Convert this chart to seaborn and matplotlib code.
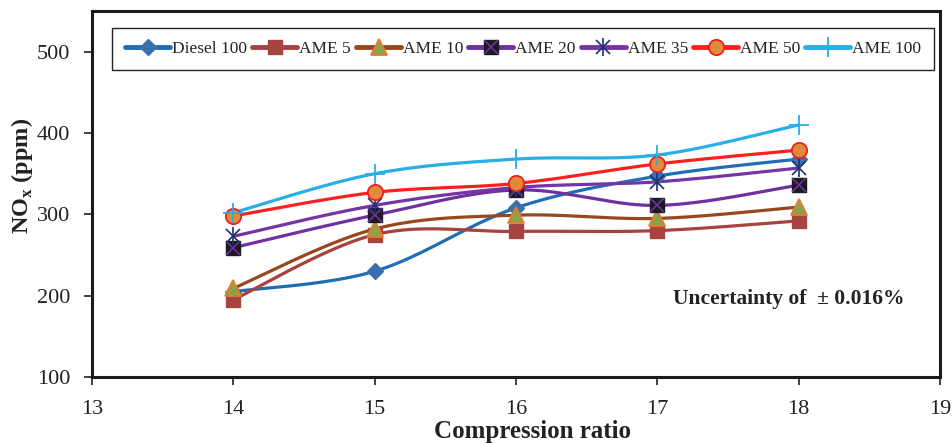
import numpy as np
import pandas as pd
import seaborn as sns
import matplotlib
matplotlib.use("Agg")
import matplotlib.pyplot as plt
from matplotlib.lines import Line2D
from matplotlib.legend_handler import HandlerTuple

# ---- data ----
compression_ratio = [14, 15, 16, 17, 18]
diesel_100 = [205, 230, 308, 347, 368]
ame_5 = [195, 275, 279, 280, 292]
ame_10 = [209, 282, 299, 295, 309]
ame_20 = [259, 299, 330, 311, 336]
ame_35 = [273, 311, 333, 340, 357]
ame_50 = [298, 327, 338, 362, 379]
ame_100 = [302, 350, 368, 373, 410]
series_names = ["Diesel 100", "AME 5", "AME 10", "AME 20", "AME 35", "AME 50", "AME 100"]
x_ticks = [13, 14, 15, 16, 17, 18, 19]
y_ticks = [100, 200, 300, 400, 500]

sns.set_theme(style="ticks")
plt.rcParams["font.family"] = ["Liberation Serif", "DejaVu Serif"]
plt.rcParams["mathtext.fontset"] = "custom"
plt.rcParams["mathtext.rm"] = "Liberation Serif"
plt.rcParams["mathtext.bf"] = "Liberation Serif:bold"

values = [diesel_100, ame_5, ame_10, ame_20, ame_35, ame_50, ame_100]
df = pd.DataFrame({"cr": compression_ratio * len(series_names),
                   "nox": sum(values, []),
                   "fuel": np.repeat(series_names, len(compression_ratio))})


def smooth(xs, ys, n=40):
    """Excel-like smoothed line (Catmull-Rom Bezier) through the points."""
    P = np.column_stack([xs, ys]).astype(float)
    out = []
    m = len(P)
    for i in range(m - 1):
        p0 = P[i - 1] if i > 0 else P[i]
        p1, p2 = P[i], P[i + 1]
        p3 = P[i + 2] if i + 2 < m else P[i + 1]
        c1 = p1 + (p2 - p0) / 6.0
        c2 = p2 - (p3 - p1) / 6.0
        t = np.linspace(0, 1, n)[:, None]
        seg = ((1 - t) ** 3) * p1 + 3 * ((1 - t) ** 2) * t * c1 + 3 * (1 - t) * t ** 2 * c2 + t ** 3 * p2
        out.append(seg if i == 0 else seg[1:])
    return np.vstack(out)


line_colors = {"Diesel 100": "#1f6db5", "AME 5": "#a8423f", "AME 10": "#98481e",
               "AME 20": "#7030a0", "AME 35": "#7535a5", "AME 50": "#ff1f1f",
               "AME 100": "#2aaee6"}

styles = {
    "Diesel 100": [dict(marker="D", ms=8.5, mfc="#3c6fb0", mec="#3c6fb0", mew=1)],
    "AME 5": [dict(marker="s", ms=10, mfc="#a8443f", mec="#a8443f", mew=1)],
    "AME 10": [dict(marker="^", ms=11, mfc="#8ba24c", mec="#ea7a2a", mew=1.3)],
    "AME 20": [dict(marker="s", ms=10.5, mfc="#1c1a22", mec="#1c1a22", mew=1),
               dict(marker="x", ms=9.5, mfc="none", mec="#7030a0", mew=1.2)],
    "AME 35": [dict(marker="x", ms=9.5, mfc="none", mec="#1f2f6e", mew=1.2),
               dict(marker="|", ms=13, mfc="none", mec="#1f2f6e", mew=1.2)],
    "AME 50": [dict(marker="o", ms=11, mfc="#e08a3c", mec="#f01f1f", mew=1.3)],
    "AME 100": [dict(marker="+", ms=14, mfc="none", mec="#2aaee6", mew=1.3)],
}

fig = plt.figure(figsize=(9.53, 4.43), dpi=100)
ax = fig.add_axes([0.0965, 0.149, 0.8899, 0.826])

handles = []
for name in series_names:
    sub = df[df["fuel"] == name]
    curve = smooth(sub["cr"].values, sub["nox"].values)
    cdf = pd.DataFrame({"x": curve[:, 0], "y": curve[:, 1]})
    sns.lineplot(data=cdf, x="x", y="y", ax=ax, sort=False, color=line_colors[name],
                 lw=2.3, estimator=None, legend=False, zorder=2)
for name in series_names:
    sub = df[df["fuel"] == name]
    parts = []
    for st in styles[name]:
        ax.plot(sub["cr"], sub["nox"], ls="none", zorder=3, **st)
        parts.append(Line2D([], [], ls="none", **st))
    line_h = Line2D([], [], color=line_colors[name], lw=3.5)
    handles.append(tuple([line_h] + parts))

ax.set_xlim(13, 19)
ax.set_ylim(100, 550)
ax.set_xticks(x_ticks)
ax.set_yticks(y_ticks)
ax.tick_params(axis="both", labelsize=16, length=5.5, width=1.2, color="#222222",
               labelcolor="#222222", direction="out")
ax.tick_params(axis="x", pad=11)
ax.tick_params(axis="y", pad=10)
for sp in ax.spines.values():
    sp.set_linewidth(2.2)
    sp.set_color("#1a1a1a")
ax.set_xlabel("Compression ratio", fontsize=18, fontweight="bold", color="#222222")
ax.set_ylabel(r"NO$_\mathbf{x}$ (ppm)", fontsize=17.5, fontweight="bold", color="#222222")
ax.xaxis.set_label_coords(0.519, -0.150)
ax.yaxis.set_label_coords(-0.0825, 0.55)
ax.xaxis.label.set_va("center")
ax.yaxis.label.set_va("center")

ax.text(17.11, 196, "Uncertainty of  \u00b1 0.016%", fontsize=15.5, fontweight="bold",
        ha="left", va="center", color="#222222")

leg = ax.legend(handles, series_names, handler_map={tuple: HandlerTuple(ndivide=1, pad=0)},
                loc="upper left", bbox_to_anchor=(0.024, 0.825, 0.969, 0.129), mode="expand",
                ncol=7, fontsize=12.5, frameon=True, fancybox=False, edgecolor="#222222",
                framealpha=1, handlelength=2.6, handletextpad=0.1, columnspacing=0.0,
                borderpad=0.75, borderaxespad=0)
leg.get_frame().set_linewidth(1.0)
for t in leg.get_texts():
    t.set_color("#222222")

fig.savefig("out.png", dpi=100)
